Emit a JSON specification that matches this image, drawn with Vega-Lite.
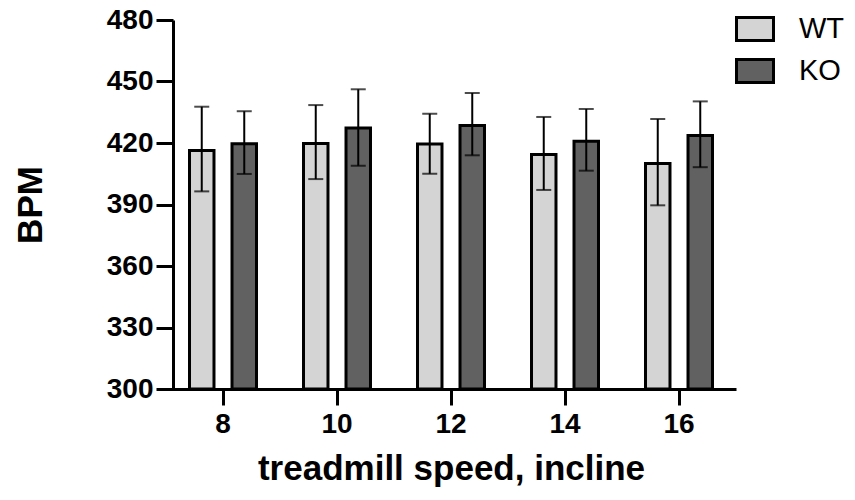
{
  "$schema": "https://vega.github.io/schema/vega-lite/v6.json",
  "width": 559,
  "height": 369,
  "autosize": {"type": "none"},
  "padding": {"left": 173, "top": 20, "right": 123, "bottom": 111},
  "background": "white",
  "data": {
    "values": [
      {"speed": 8, "genotype": "WT", "mean": 416.3, "lo": 396.4, "hi": 437.7},
      {"speed": 8, "genotype": "KO", "mean": 419.6, "lo": 404.9, "hi": 435.5},
      {"speed": 10, "genotype": "WT", "mean": 419.8, "lo": 402.4, "hi": 438.5},
      {"speed": 10, "genotype": "KO", "mean": 427.3, "lo": 408.9, "hi": 446.2},
      {"speed": 12, "genotype": "WT", "mean": 419.5, "lo": 405.0, "hi": 434.3},
      {"speed": 12, "genotype": "KO", "mean": 428.5, "lo": 414.0, "hi": 444.4},
      {"speed": 14, "genotype": "WT", "mean": 414.4, "lo": 397.1, "hi": 432.7},
      {"speed": 14, "genotype": "KO", "mean": 420.8, "lo": 406.5, "hi": 436.6},
      {"speed": 16, "genotype": "WT", "mean": 410.0, "lo": 389.6, "hi": 431.7},
      {"speed": 16, "genotype": "KO", "mean": 423.7, "lo": 408.2, "hi": 440.3}
    ]
  },
  "encoding": {
    "x": {
      "field": "speed",
      "type": "ordinal",
      "scale": {"range": [-7, 563], "paddingInner": 0, "paddingOuter": 0},
      "axis": {
        "title": "treadmill speed, incline",
        "labelAngle": 0,
        "labelFont": "Liberation Sans",
        "labelFontWeight": "bold",
        "labelFontSize": 28,
        "labelColor": "black",
        "labelPadding": 5,
        "tickSize": 16,
        "titleFont": "Liberation Sans",
        "titleFontWeight": "bold",
        "titleFontSize": 35,
        "titleColor": "black",
        "titlePadding": 13
      }
    },
    "xOffset": {
      "field": "genotype",
      "type": "nominal",
      "sort": ["WT", "KO"],
      "scale": {"paddingInner": 0.424, "paddingOuter": 0.553}
    }
  },
  "layer": [
    {
      "mark": {"type": "bar", "stroke": "black", "strokeWidth": 3},
      "encoding": {
        "y": {
          "field": "mean",
          "type": "quantitative",
          "scale": {"domain": [300, 480], "nice": false, "zero": false},
          "axis": {
            "title": "BPM",
            "values": [300, 330, 360, 390, 420, 450, 480],
            "labelFont": "Liberation Sans",
            "labelFontWeight": "bold",
            "labelFontSize": 28,
            "labelColor": "black",
            "labelPadding": 3,
            "tickSize": 17,
            "titleFont": "Liberation Sans",
            "titleFontWeight": "bold",
            "titleFontSize": 35,
            "titleColor": "black",
            "titlePadding": 58
          }
        },
        "y2": {"datum": 300},
        "color": {
          "field": "genotype",
          "type": "nominal",
          "scale": {"domain": ["WT", "KO"], "range": ["#d4d4d4", "#616161"]},
          "legend": {
            "title": null,
            "orient": "none",
            "legendX": 562,
            "legendY": -11,
            "symbolType": "M-1,-0.62H1V0.62H-1Z",
            "symbolSize": 1369,
            "symbolStrokeColor": "black",
            "symbolStrokeWidth": 3,
            "symbolOpacity": 1,
            "labelFont": "Liberation Sans",
            "labelFontSize": 29,
            "labelColor": "black",
            "labelOffset": 24,
            "rowPadding": 4
          }
        }
      }
    },
    {
      "mark": {"type": "rule", "color": "black", "strokeWidth": 2},
      "encoding": {
        "y": {"field": "lo", "type": "quantitative"},
        "y2": {"field": "hi"}
      }
    },
    {
      "mark": {"type": "tick", "color": "black", "thickness": 2, "size": 15, "orient": "horizontal"},
      "encoding": {
        "y": {"field": "hi", "type": "quantitative"}
      }
    },
    {
      "mark": {"type": "tick", "color": "black", "thickness": 2, "size": 15, "orient": "horizontal"},
      "encoding": {
        "y": {"field": "lo", "type": "quantitative"}
      }
    }
  ],
  "config": {
    "view": {"stroke": null},
    "axis": {
      "grid": false,
      "domainColor": "black",
      "domainWidth": 3,
      "tickColor": "black",
      "tickWidth": 3
    }
  }
}
